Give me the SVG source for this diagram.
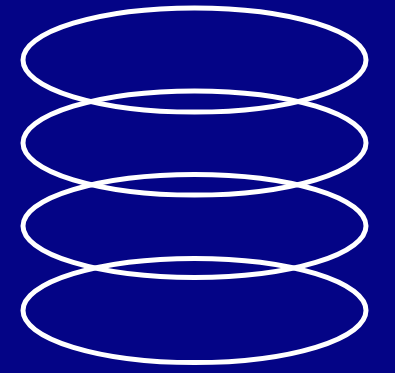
<svg xmlns="http://www.w3.org/2000/svg" width="395" height="373" viewBox="0 0 395 373">
<style>
.ring{fill:none;stroke:#ffffff;stroke-width:5}
</style>
<rect width="395" height="373" fill="#040486"/>
<g id="ring1"><ellipse class="ring" cx="194.5" cy="60" rx="171.5" ry="52"/></g>
<g id="ring2"><ellipse class="ring" cx="194.5" cy="143" rx="171.5" ry="52"/></g>
<g id="ring3"><ellipse class="ring" cx="194.5" cy="226" rx="171.5" ry="51.5"/></g>
<g id="ring4"><ellipse class="ring" cx="194.5" cy="310.5" rx="171.5" ry="52"/></g>
</svg>
